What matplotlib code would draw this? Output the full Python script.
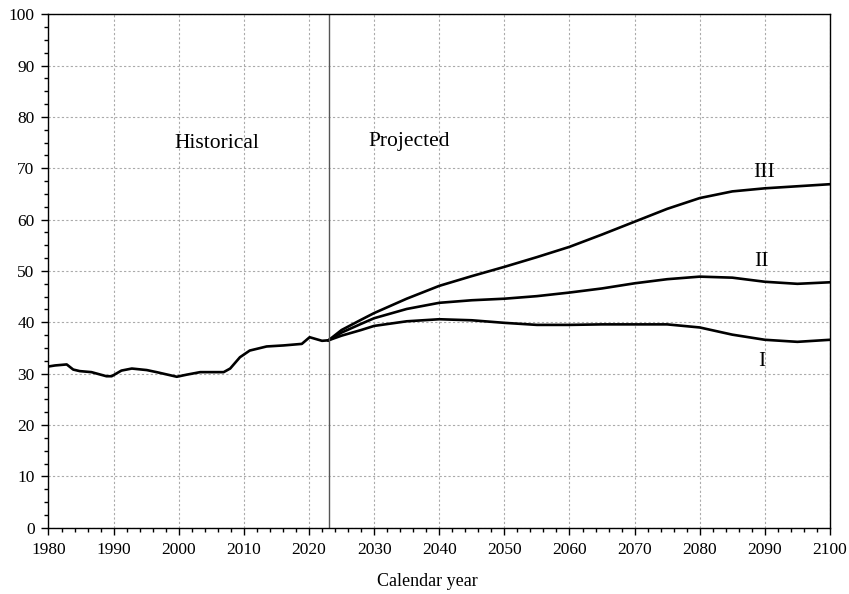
import matplotlib
matplotlib.use("Agg")
import matplotlib.pyplot as plt
from matplotlib.ticker import MultipleLocator

plt.rcParams['font.family'] = ['Liberation Serif', 'DejaVu Serif']

hist_years = [1980, 1981, 1982.8, 1983.8, 1984.8, 1986.6, 1988.9, 1989.7, 1991.2, 1992.8,
              1995.1, 1996.6, 1999.7, 2001.2, 2003.3, 2006.9, 2007.9, 2009.4, 2010.9,
              2013.5, 2016.1, 2018.9, 2020.1, 2022, 2023]
hist_vals = [31.4, 31.6, 31.8, 30.8, 30.5, 30.3, 29.5, 29.5, 30.6, 31.0,
             30.7, 30.3, 29.4, 29.8, 30.3, 30.3, 31.0, 33.2, 34.5,
             35.3, 35.5, 35.8, 37.1, 36.4, 36.5]

proj_years = [2023, 2025, 2028, 2030, 2035, 2040, 2045, 2050, 2055, 2060, 2065,
              2070, 2075, 2080, 2085, 2090, 2095, 2100]
alt_I = [36.5, 37.4, 38.5, 39.3, 40.2, 40.6, 40.4, 39.9, 39.5, 39.5, 39.6,
         39.6, 39.6, 39.0, 37.6, 36.6, 36.2, 36.6]
alt_II = [36.5, 38.0, 39.7, 40.8, 42.6, 43.8, 44.3, 44.6, 45.1, 45.8, 46.6,
          47.6, 48.4, 48.9, 48.7, 47.9, 47.5, 47.8]
alt_III = [36.5, 38.5, 40.5, 41.8, 44.6, 47.1, 49.0, 50.8, 52.7, 54.7, 57.1,
           59.6, 62.1, 64.2, 65.5, 66.1, 66.5, 66.9]

fig = plt.figure(figsize=(8.49, 5.94), dpi=100)
ax = fig.add_axes([0.0571, 0.1116, 0.9205, 0.8644])

ax.grid(True, which='major', color='#aaaaaa', linestyle=(0, (2, 2)), linewidth=0.8)
ax.set_axisbelow(True)

lw = 1.9
ax.plot(hist_years, hist_vals, color='black', lw=lw, solid_joinstyle='round')
for v in (alt_I, alt_II, alt_III):
    ax.plot(proj_years, v, color='black', lw=lw, solid_joinstyle='round')

ax.axvline(2023, color='#555555', lw=1.0)

ax.set_xlim(1980, 2100)
ax.set_ylim(0, 100)
ax.xaxis.set_major_locator(MultipleLocator(10))
ax.xaxis.set_minor_locator(MultipleLocator(2))
ax.yaxis.set_major_locator(MultipleLocator(10))
ax.yaxis.set_minor_locator(MultipleLocator(2.5))
ax.tick_params(which='major', direction='out', length=5, width=1, labelsize=12.5)
ax.tick_params(axis='y', which='major', pad=5)
ax.tick_params(axis='x', which='major', pad=5)
ax.tick_params(which='minor', direction='out', length=3, width=1)
for s in ax.spines.values():
    s.set_linewidth(1.0)

ax.text(2005.8, 74.9, 'Historical', fontsize=15.5, ha='center', va='center')
ax.text(2035.4, 75.3, 'Projected', fontsize=15.5, ha='center', va='center')
ax.text(2089.8, 69.1, 'III', fontsize=15.5, ha='center', va='center')
ax.text(2089.4, 51.9, 'II', fontsize=15.5, ha='center', va='center')
ax.text(2089.6, 32.3, 'I', fontsize=15.5, ha='center', va='center')

fig.text(0.503, 0.021, 'Calendar year', fontsize=13, ha='center', va='center')

fig.savefig('out.png', dpi=100)
